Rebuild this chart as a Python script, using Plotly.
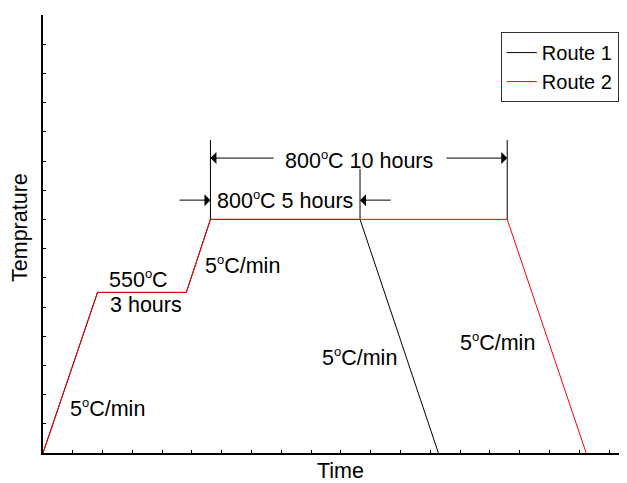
import plotly.graph_objects as go

# Data (time in hours, temperature in degC)
route1_time = [0, 1.83, 4.81, 5.62, 10.64, 13.27]
route1_temp = [0, 550, 550, 800, 800, 0]
route2_time = [0, 1.83, 4.81, 5.62, 15.58, 18.23]
route2_temp = [0, 550, 550, 800, 800, 0]

FONT = "Liberation Sans, Arial, sans-serif"
FS = 21.5
DEG = "<sup><span style='font-size:13px'>o</span></sup>"

fig = go.Figure()
fig.add_trace(go.Scatter(x=route1_time, y=route1_temp, mode="lines", name="Route 1",
                         line=dict(color="black", width=1)))
fig.add_trace(go.Scatter(x=route2_time, y=route2_temp, mode="lines", name="Route 2",
                         line=dict(color="#ff0000", width=1)))

# dimension lines
for x0, y1 in [(5.62, 1072), (15.58, 1072), (10.64, 973)]:
    fig.add_shape(type="line", x0=x0, x1=x0, y0=800, y1=y1, xref="x", yref="y",
                  line=dict(color="black", width=1))

def arrow(xh, yh, xt, yt):
    fig.add_annotation(x=xh, y=yh, ax=xt, ay=yt, xref="x", yref="y", axref="x", ayref="y",
                       text="", showarrow=True, arrowhead=1, arrowsize=2, arrowwidth=1,
                       arrowcolor="black", standoff=0, startstandoff=0)

arrow(5.62, 1010, 7.79, 1010)
arrow(15.58, 1010, 13.49, 1010)
arrow(5.62, 866, 4.53, 866)
arrow(10.64, 866, 11.72, 866)

labels = [
    ("800" + DEG + "C 10 hours", 10.61, 1003),
    ("800" + DEG + "C 5 hours", 8.12, 866),
    ("550" + DEG + "C", 3.22, 596),
    ("3 hours", 3.46, 507),
    ("5" + DEG + "C/min", 2.18, 154),
    ("5" + DEG + "C/min", 6.71, 644),
    ("5" + DEG + "C/min", 10.61, 329),
    ("5" + DEG + "C/min", 15.24, 380),
]
for t, x, y in labels:
    fig.add_annotation(x=x, y=y, xref="x", yref="y", text=t, showarrow=False,
                       font=dict(family=FONT, size=FS, color="black"))

# axis titles
fig.add_annotation(x=-0.0394, y=0.516, xref="paper", yref="paper", text="Temprature",
                   textangle=-90, showarrow=False, xanchor="center", yanchor="middle",
                   font=dict(family=FONT, size=FS, color="black"))
fig.add_annotation(x=0.5086, y=-0.04, xref="paper", yref="paper", text="Time",
                   showarrow=False, xanchor="center", yanchor="middle",
                   font=dict(family=FONT, size=FS, color="black"))

axis_common = dict(showline=True, linecolor="black", linewidth=2, ticks="inside",
                   ticklen=3, tickwidth=1, tickcolor="black", showticklabels=False,
                   showgrid=False, zeroline=False, mirror=False)
fig.update_xaxes(range=[0, 19.6], dtick=1, tick0=0, **axis_common)
fig.update_yaxes(range=[0, 1500], dtick=100, tick0=0, **axis_common)

# the page body has an 8px margin, so the figure is sized to end at the window edge
fig.update_layout(
    width=619, height=475,
    margin=dict(l=35, r=0, t=7, b=30),
    paper_bgcolor="white", plot_bgcolor="white",
    font=dict(family=FONT, size=FS, color="black"),
    legend=dict(x=0.986, y=0.961, xanchor="right", yanchor="top",
                bordercolor="#333333", borderwidth=1, bgcolor="white",
                font=dict(family=FONT, size=20), tracegroupgap=0),
    showlegend=True,
)
fig.write_html("out.html")
